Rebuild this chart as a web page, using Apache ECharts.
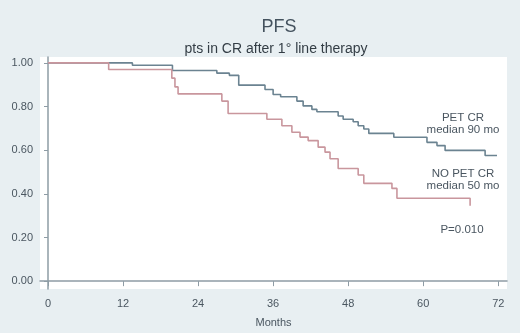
<!DOCTYPE html>
<html>
<head>
<meta charset="utf-8">
<script src="https://cdn.jsdelivr.net/npm/echarts@6/dist/echarts.min.js"></script>
<style>
  html, body { margin: 0; padding: 0; background: #e8eff2; }
  #chart { width: 520px; height: 333px; }
</style>
</head>
<body>
<div id="chart"></div>
<script>
// Kaplan-Meier step points: [months, survival]
const petCR = [
  [0, 1.0], [13.5, 0.989], [19.9, 0.965], [27, 0.953], [29, 0.943], [30.5, 0.898],
  [34.7, 0.878], [36, 0.855], [37.2, 0.845], [39.8, 0.825], [40.8, 0.803], [42.2, 0.787],
  [43, 0.776], [46.4, 0.757], [47.2, 0.742], [48.8, 0.73], [49.6, 0.712], [50.5, 0.697],
  [51.3, 0.677], [55.3, 0.659], [60.6, 0.636], [62.2, 0.621], [63.5, 0.599], [69.9, 0.576],
  [71.8, 0.576]
]
const noPetCR = [
  [0, 1.0], [9.7, 0.97], [19.8, 0.93], [20.3, 0.89], [20.8, 0.858], [27.8, 0.825],
  [28.8, 0.768], [35, 0.742], [37.4, 0.712], [39, 0.682], [40.3, 0.66], [41.6, 0.644],
  [43.2, 0.614], [44.3, 0.591], [45.1, 0.561], [46.4, 0.516], [49.6, 0.486], [50.5, 0.448],
  [55, 0.425], [55.8, 0.38], [67.5, 0.38], [67.5, 0.345]
]
const xTicks = [0, 12, 24, 36, 48, 60, 72]
const yTicks = [0, 0.2, 0.4, 0.6, 0.8, 1.0]

const chart = echarts.init(document.getElementById('chart'), null, { renderer: 'canvas' })

const axisColor = '#8e9ca5'
const textColor = '#4a5660'
const font = 'Liberation Sans, Arial, sans-serif'

chart.setOption({
  backgroundColor: '#e8eff2',
  animation: false,
  title: [
    {
      text: 'PFS', left: 274, top: 13, textAlign: 'center',
      textStyle: { fontFamily: font, fontSize: 18, fontWeight: 'normal', color: '#44525e' }
    },
    {
      text: 'pts in CR after 1° line therapy', left: 271, top: 37, textAlign: 'center',
      textStyle: { fontFamily: font, fontSize: 14, fontWeight: 'normal', color: '#333d45' }
    }
  ],
  grid: {
    left: 40, right: 13, top: 57, bottom: 41,
    show: true, backgroundColor: '#ffffff', borderWidth: 0
  },
  xAxis: {
    type: 'value',
    min: -1.28, max: 73.4,
    name: 'Months', nameLocation: 'middle', nameGap: 28,
    nameTextStyle: { fontFamily: font, fontSize: 11, color: textColor },
    axisLine: { show: true, lineStyle: { color: axisColor, width: 1.5 } },
    axisTick: { show: true, customValues: xTicks, length: 5, lineStyle: { color: axisColor } },
    axisLabel: { customValues: xTicks, margin: 9, fontFamily: font, fontSize: 11, color: textColor },
    splitLine: { show: false }
  },
  yAxis: {
    type: 'value',
    min: -0.036, max: 1.027,
    axisLine: { show: true, lineStyle: { color: axisColor, width: 1.5 } },
    axisTick: { show: true, customValues: yTicks, length: 4, lineStyle: { color: axisColor } },
    axisLabel: {
      customValues: yTicks, margin: 7, fontFamily: font, fontSize: 11, color: textColor,
      formatter: v => v.toFixed(2)
    },
    splitLine: { show: false }
  },
  series: [
    {
      name: 'PET CR', type: 'line', step: 'end', data: petCR,
      showSymbol: false, lineStyle: { color: '#6b8391', width: 1.6 }
    },
    {
      name: 'NO PET CR', type: 'line', step: 'end', data: noPetCR,
      showSymbol: false, lineStyle: { color: '#c9969d', width: 1.6 }
    }
  ],
  graphic: [
    { type: 'text', x: 463, y: 118, style: { text: 'PET CR', font: '11.5px ' + font, fill: textColor, align: 'center', verticalAlign: 'middle' } },
    { type: 'text', x: 463, y: 130, style: { text: 'median 90 mo', font: '11.5px ' + font, fill: textColor, align: 'center', verticalAlign: 'middle' } },
    { type: 'text', x: 463, y: 174, style: { text: 'NO PET CR', font: '11.5px ' + font, fill: textColor, align: 'center', verticalAlign: 'middle' } },
    { type: 'text', x: 463, y: 186, style: { text: 'median 50 mo', font: '11.5px ' + font, fill: textColor, align: 'center', verticalAlign: 'middle' } },
    { type: 'text', x: 462, y: 230, style: { text: 'P=0.010', font: '11.5px ' + font, fill: textColor, align: 'center', verticalAlign: 'middle' } }
  ]
})
</script>
</body>
</html>
